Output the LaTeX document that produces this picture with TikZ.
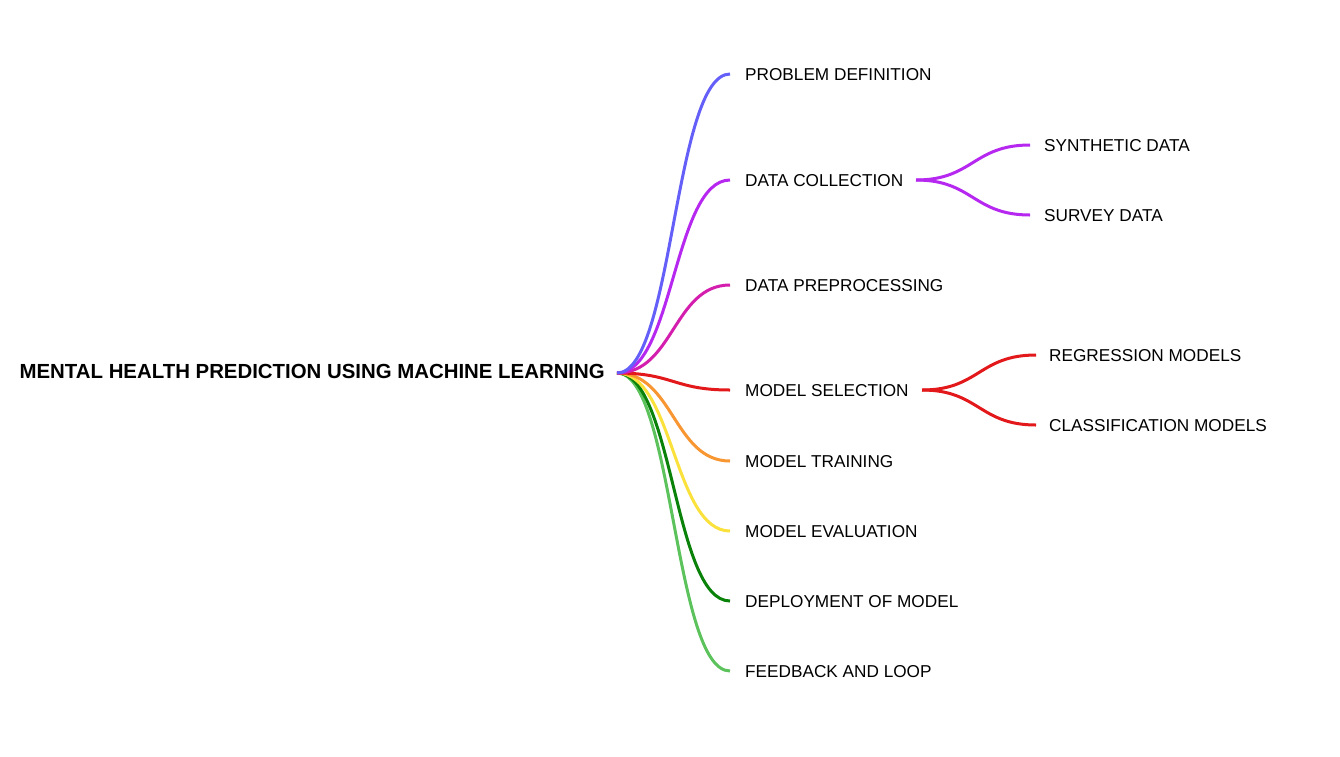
\documentclass[tikz,border=0pt]{standalone}
\usepackage{fontspec}
\setmainfont{Liberation Sans}
\definecolor{cBlue}{RGB}{100,95,248}
\definecolor{cPurple}{RGB}{182,40,240}
\definecolor{cMagenta}{RGB}{212,30,174}
\definecolor{cRed}{RGB}{227,24,26}
\definecolor{cOrange}{RGB}{248,150,50}
\definecolor{cYellow}{RGB}{250,225,60}
\definecolor{cDGreen}{RGB}{10,130,10}
\definecolor{cLGreen}{RGB}{92,195,92}
\tikzset{
  lbl/.style={anchor=west,inner sep=0pt,font=\fontsize{17.2}{20}\selectfont},
  rootlbl/.style={anchor=east,inner sep=0pt,font=\bfseries\fontsize{20.4}{24}\selectfont},
  link/.style={line width=3pt},
}
\begin{document}
\begin{tikzpicture}[x=1pt,y=-1pt]
\useasboundingbox[fill=white] (0,0) rectangle (1340,756);
% root
\node[rootlbl] (root) at (605,371) {MENTAL HEALTH PREDICTION USING MACHINE LEARNING};
\coordinate (r) at (617,373);
% branch ends
\coordinate (e1) at (730,74);
\coordinate (e2) at (730,180);
\coordinate (e3) at (730,285);
\coordinate (e4) at (730,390);
\coordinate (e5) at (730,461);
\coordinate (e6) at (730,531);
\coordinate (e7) at (730,601);
\coordinate (e8) at (730,671);
% labels
\node[lbl] (n1) at (745,75) {PROBLEM DEFINITION};
\node[lbl] (n2) at (745,181) {DATA COLLECTION};
\node[lbl] (n3) at (745,286) {DATA PREPROCESSING};
\node[lbl] (n4) at (745,391) {MODEL SELECTION};
\node[lbl] (n5) at (745,462) {MODEL TRAINING};
\node[lbl] (n6) at (745,532) {MODEL EVALUATION};
\node[lbl] (n7) at (745,602) {DEPLOYMENT OF MODEL};
\node[lbl] (n8) at (745,672) {FEEDBACK AND LOOP};
% sub labels
\node[lbl] (s1) at (1044,146) {SYNTHETIC DATA};
\node[lbl] (s2) at (1044,216) {SURVEY DATA};
\node[lbl] (s3) at (1049,356) {REGRESSION MODELS};
\node[lbl] (s4) at (1049,426) {CLASSIFICATION MODELS};
% sub link coordinates
\coordinate (d0) at (916,180);
\coordinate (d1) at (1030,145);
\coordinate (d2) at (1030,215);
\coordinate (m0) at (922,390);
\coordinate (m1) at (1036,355);
\coordinate (m2) at (1036,425);
% main links
\draw[link,cLGreen] (r) .. controls ([xshift=56.5pt]r) and ([xshift=-56.5pt]e8) .. (e8);
\draw[link,cDGreen] (r) .. controls ([xshift=56.5pt]r) and ([xshift=-56.5pt]e7) .. (e7);
\draw[link,cYellow] (r) .. controls ([xshift=56.5pt]r) and ([xshift=-56.5pt]e6) .. (e6);
\draw[link,cOrange] (r) .. controls ([xshift=56.5pt]r) and ([xshift=-56.5pt]e5) .. (e5);
\draw[link,cRed] (r) .. controls ([xshift=56.5pt]r) and ([xshift=-56.5pt]e4) .. (e4);
\draw[link,cMagenta] (r) .. controls ([xshift=56.5pt]r) and ([xshift=-56.5pt]e3) .. (e3);
\draw[link,cPurple] (r) .. controls ([xshift=56.5pt]r) and ([xshift=-56.5pt]e2) .. (e2);
\draw[link,cBlue] (r) .. controls ([xshift=56.5pt]r) and ([xshift=-56.5pt]e1) .. (e1);
% sub links
\draw[link,cPurple] (d0) .. controls ([xshift=57pt]d0) and ([xshift=-57pt]d1) .. (d1);
\draw[link,cPurple] (d0) .. controls ([xshift=57pt]d0) and ([xshift=-57pt]d2) .. (d2);
\draw[link,cRed] (m0) .. controls ([xshift=57pt]m0) and ([xshift=-57pt]m1) .. (m1);
\draw[link,cRed] (m0) .. controls ([xshift=57pt]m0) and ([xshift=-57pt]m2) .. (m2);
\end{tikzpicture}
\end{document}
